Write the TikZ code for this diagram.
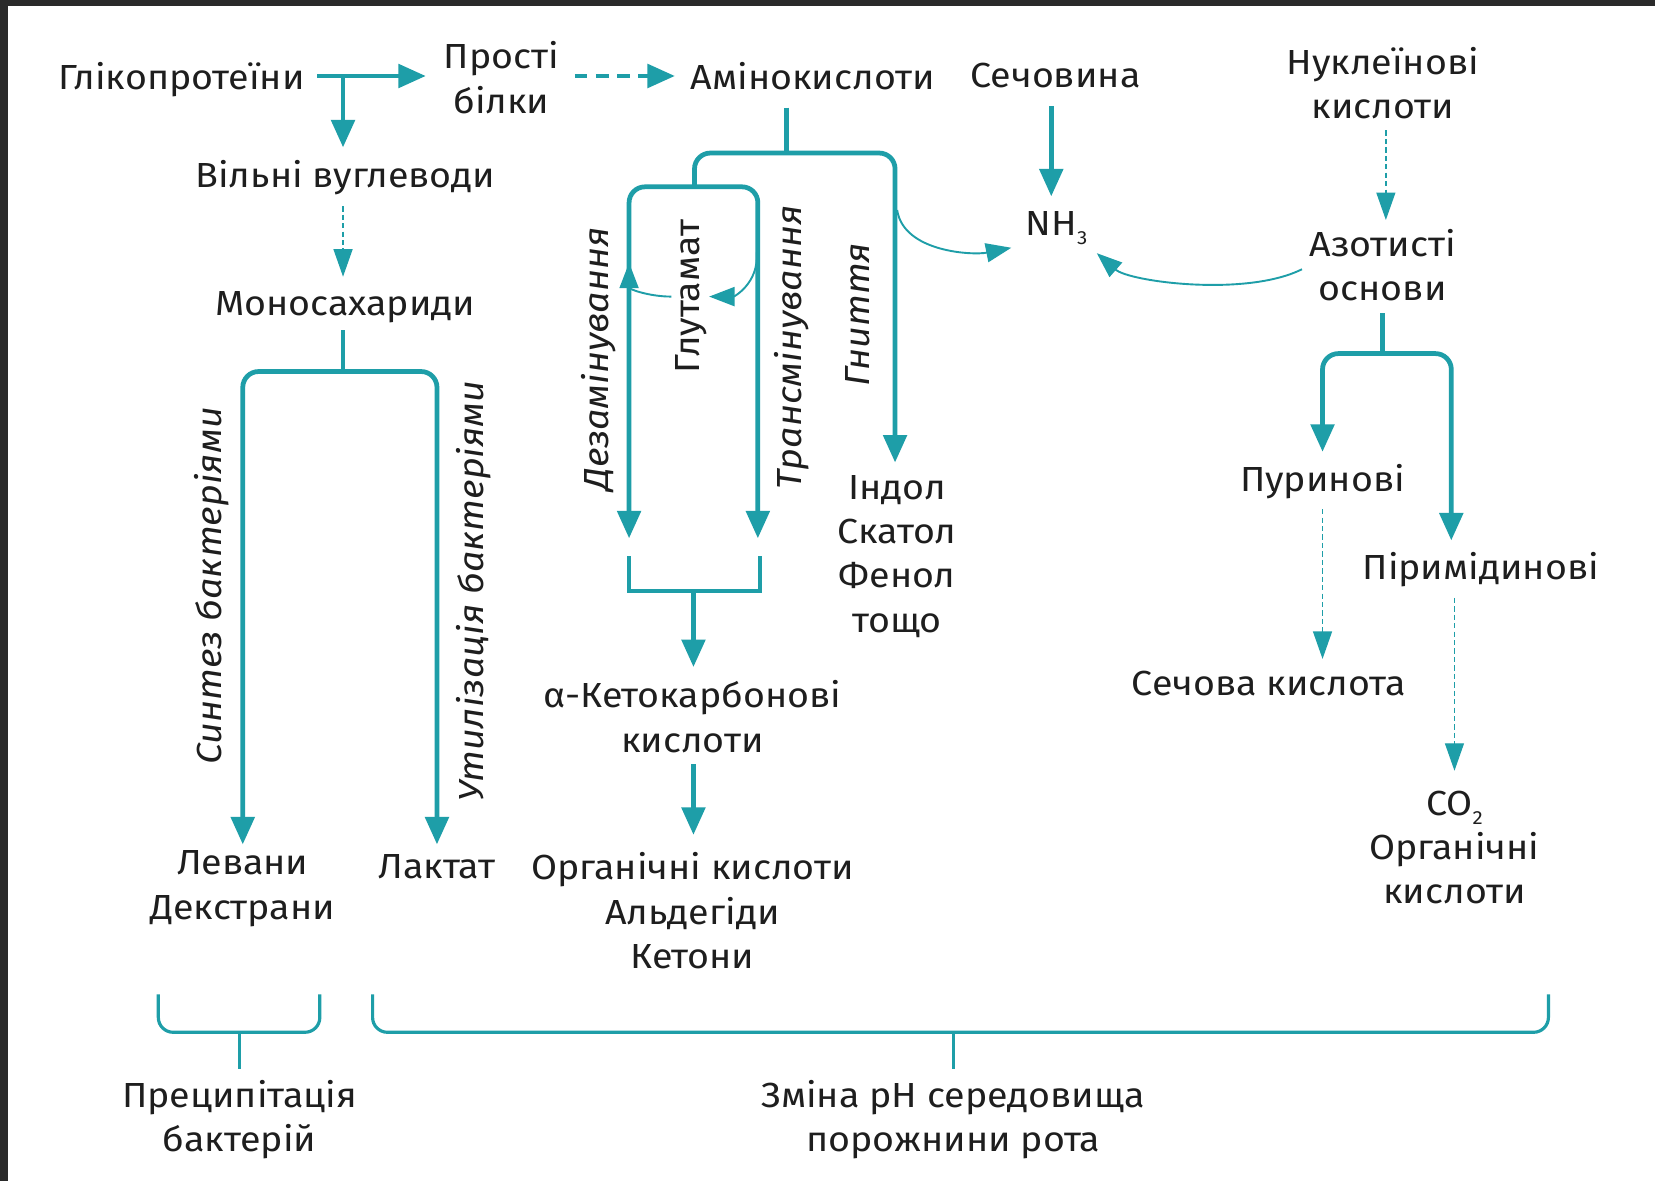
\documentclass[tikz,border=0pt]{standalone}
\usepackage{fontspec}
\setmainfont{Fira Sans}[FakeStretch=1.08]
\usetikzlibrary{arrows.meta}
\definecolor{tl}{RGB}{30,158,168}
\definecolor{ink}{RGB}{30,30,30}
\definecolor{framec}{RGB}{42,42,42}
\begin{document}
\begin{tikzpicture}[x=1pt,y=-1pt,
  txt/.style={font=\fontsize{33}{42}\selectfont, text=ink, inner sep=0pt, outer sep=0pt, align=center},
  itl/.style={txt, font=\fontsize{33}{42}\selectfont\itshape, rotate=90},
  upr/.style={txt, rotate=90},
  thk/.style={draw=tl, line width=4.5pt},
  thkA/.style={thk, -{Triangle[length=26pt,width=22pt]}},
  thkAA/.style={thk, rounded corners=15pt, {Triangle[length=26pt,width=22pt]}-{Triangle[length=26pt,width=22pt]}},
  dsh/.style={thk, dash pattern=on 12pt off 8pt, -{Triangle[length=26pt,width=22pt]}},
  thn/.style={draw=tl, line width=1.8pt, -{Triangle[length=24pt,width=18pt]}},
  thnd/.style={draw=tl, line width=1.2pt, dash pattern=on 5pt off 3pt, -{Triangle[length=26pt,width=18pt]}},
  brc/.style={draw=tl, line width=3pt, rounded corners=14pt},
  stem/.style={draw=tl, line width=3pt}
]
\path[use as bounding box] (0,0) rectangle (1568,1119);
\fill[framec] (0,0) rectangle (1568,1119);
\fill[white] (7.5,5.5) rectangle (1568,1119);

% ---------- texts ----------
\node[txt] (glyco) at (172,75) {Глікопротеїни};
\node[txt] (prosti) at (475,73.5) {Прості\\білки};
\node[txt] (amino) at (770,72) {Амінокислоти};
\node[txt] (sech) at (1000,72) {Сечовина};
\node[txt] (nukl) at (1310,78.5) {Нуклеїнові\\кислоти};
\node[txt] (vilni) at (327,168) {Вільні вуглеводи};
\node[txt] (mono) at (327,291) {Моносахариди};
\node[txt] (nh3) at (1001,216) {NH\raisebox{-9pt}{\fontsize{18}{18}\selectfont 3}};
\node[txt] (azot) at (1310,251.5) {Азотисті\\основи};
\node[txt] (pur) at (1253,456) {Пуринові};
\node[txt] (pir) at (1403,540) {Піримідинові};
\node[txt] (sechk) at (1202,648) {Сечова кислота};
\node[txt] (co2) at (1378,803) {CO\raisebox{-9pt}{\fontsize{18}{18}\selectfont 2}\\Органічні\\кислоти};
\node[txt] (indol) at (850,527) {Індол\\Скатол\\Фенол\\тощо};
\node[txt] (keto) at (656,679) {α-Кетокарбонові\\кислоти};
\node[txt] (org) at (656,863) {Органічні кислоти\\Альдегіди\\Кетони};
\node[txt] (levany) at (230,842) {Левани\\Декстрани};
\node[txt] (laktat) at (414,821) {Лактат};
\node[txt] (precip) at (227,1061) {Преципітація\\бактерій};
\node[txt] (zmina) at (903,1061) {Зміна pH середовища\\порожнини рота};
\node[itl] (sintez) at (201,555) {Синтез бактеріями};
\node[itl] (util) at (449,560) {Утилізація бактеріями};
\node[itl] (dezam) at (567,340) {Дезамінування};
\node[upr] (glut) at (655,281) {Глутамат};
\node[itl] (trans) at (750,329) {Трансмінування};
\node[itl] (gnit) at (813,298) {Гниття};

% ---------- named points ----------
\coordinate (rowg) at (0,72);
\coordinate (jg) at (325,72);
\coordinate (ja) at (745,145);
\coordinate (jl) at (658,178);
\coordinate (ib) at (657,177);
\coordinate (dl) at (596,510);
\coordinate (dr) at (718,510);
\coordinate (kl) at (596,527);
\coordinate (kr) at (720,527);
\coordinate (kj) at (657,560);
\coordinate (xk) at (657,0);
\coordinate (xs) at (996,0);
\coordinate (xn) at (1313,0);
\coordinate (jg2) at (850,199);
\coordinate (dtip) at (596,249);
\coordinate (tv) at (717,239);
\coordinate (jz) at (1310,335);
\coordinate (pl) at (1253,428);
\coordinate (pr) at (1375,512);
\coordinate (xp) at (1378,0);
\coordinate (jm) at (325,352);
\coordinate (ll) at (230,800);
\coordinate (lr) at (414,800);
\coordinate (bl1) at (150,942);
\coordinate (bl2) at (303,942);
\coordinate (bj1) at (227,978);
\coordinate (br1) at (353,942);
\coordinate (br2) at (1467,942);
\coordinate (bj2) at (903,978);

% ---------- connectors ----------
\draw[thkA, shorten <=12pt, shorten >=17pt] (glyco.east |- rowg) -- (prosti.west |- rowg);
\draw[thkA, shorten >=12pt] (jg) -- (jg |- vilni.north);
\draw[dsh, shorten <=15pt, shorten >=15pt] (prosti.east |- rowg) -- (amino.west |- rowg);
\draw[thk, shorten <=17pt] (amino.south -| ja) -- (ja);
\draw[thkA, rounded corners=15pt, shorten >=12pt] (jl) |- (ja) -| (848,0 |- indol.north);
\draw[thkAA] (dl) |- (ib) -| (dr);
\draw[thk] (kl) |- (kj) -| (kr);
\draw[thkA, shorten >=13pt] (kj) -- (kj |- keto.north);
\draw[thkA, shorten <=11pt, shorten >=17pt] (keto.south -| xk) -- (org.north -| xk);

\draw[thkA, shorten <=17pt, shorten >=14pt] (sech.south -| xs) -- (nh3.north -| xs);
\draw[thn, shorten >=14pt] (jg2) .. controls +(6,40) and +(-50,10) .. (nh3.south west);
\draw[thn, shorten <=8pt, shorten >=12pt] (azot.west) .. controls +(-60,30) and +(40,35) .. (nh3.south east);
\draw[thn, shorten <=4pt] (glut.north) .. controls +(-25,0) and +(0,25) .. (dtip);
\draw[thn, shorten >=2pt] (tv) .. controls +(2,30) and +(25,0) .. (glut.south);

\draw[thnd, shorten <=11pt, shorten >=9pt] (nukl.south -| xn) -- (azot.north -| xn);
\draw[thk, shorten <=11pt] (azot.south -| jz) -- (jz);
\draw[thkAA] (pl) |- (jz) -| (pr);
\draw[thnd, shorten <=10pt, shorten >=12pt] (pur.south) -- (pur.south |- sechk.north);
\draw[thnd, shorten <=10pt, shorten >=19pt] (pir.south -| xp) -- (co2.north -| xp);

\draw[thnd, shorten <=11pt, shorten >=14pt] (vilni.south -| jg) -- (mono.north -| jg);
\draw[thk, shorten <=7pt] (mono.south -| jm) -- (jm);
\draw[thkAA] (ll) |- (jm) -| (lr);

\draw[brc] (bl1) |- (bj1) -| (bl2);
\draw[stem, shorten >=11pt] (bj1) -- (bj1 |- precip.north);
\draw[brc] (br1) |- (bj2) -| (br2);
\draw[stem, shorten >=11pt] (bj2) -- (bj2 |- zmina.north);
\end{tikzpicture}
\end{document}
